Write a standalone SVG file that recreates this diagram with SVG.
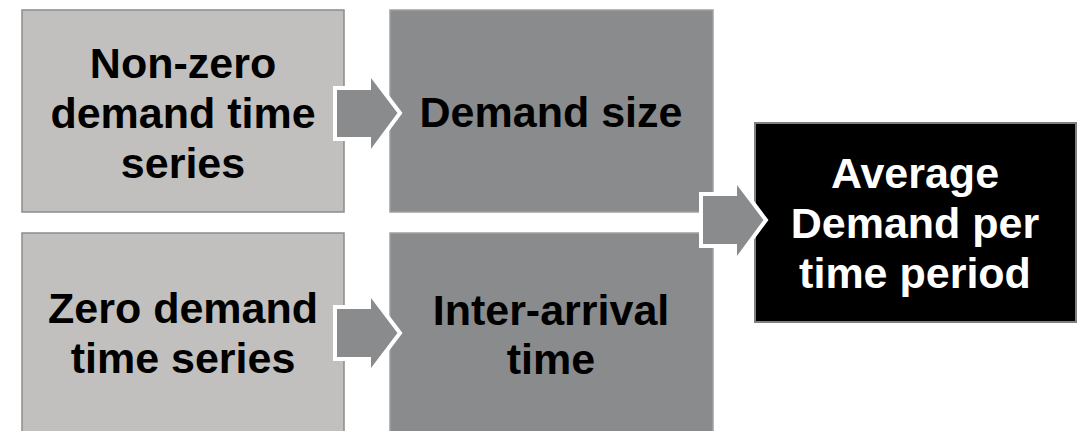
<svg xmlns="http://www.w3.org/2000/svg" width="1084" height="431" viewBox="0 0 1084 431">
<style>
.light{fill:#C1C0BE;stroke:#8C8C8C;stroke-width:1.5}
.dark{fill:#8A8B8C;stroke:#A0A0A0;stroke-width:1.5}
.black{fill:#000;stroke:#7F7F7F;stroke-width:2}
.t{font-family:"Liberation Sans",Arial,sans-serif;font-weight:bold;font-size:43px;text-anchor:middle;fill:#000}
.w{fill:#fff}
.arr{fill:#8A8B8C;stroke:#fff;stroke-width:4;stroke-linejoin:miter}
</style>
<rect width="1084" height="431" fill="#fff"/>
<g id="nonzero">
<rect class="light" x="22" y="10" width="322" height="202"/>
<text class="t" x="183" y="78">Non-zero</text>
<text class="t" x="183" y="128">demand time</text>
<text class="t" x="183" y="178">series</text>
</g>
<g id="demandsize">
<rect class="dark" x="390" y="10" width="323" height="202"/>
<text class="t" x="551" y="127">Demand size</text>
</g>
<g id="zero">
<rect class="light" x="22" y="233" width="322" height="210"/>
<text class="t" x="183" y="323">Zero demand</text>
<text class="t" x="183" y="373">time series</text>
</g>
<g id="interarrival">
<rect class="dark" x="390" y="233" width="323" height="210"/>
<text class="t" x="551" y="325">Inter-arrival</text>
<text class="t" x="551" y="374">time</text>
</g>
<g id="average">
<rect class="black" x="755" y="123" width="321" height="199"/>
<text class="t w" x="915" y="188">Average</text>
<text class="t w" x="915" y="238">Demand per</text>
<text class="t w" x="915" y="288">time period</text>
</g>
<g id="connectors">
<polygon class="arr" points="335,88 369,88 369,72 400,113 369,155 369,139 335,139"/>
<polygon class="arr" points="335,307 369,307 369,292 400,333 369,374 369,359 335,359"/>
<polygon class="arr" points="701,194 735,194 735,179 766,220 735,262 735,246 701,246"/>
</g>
</svg>
